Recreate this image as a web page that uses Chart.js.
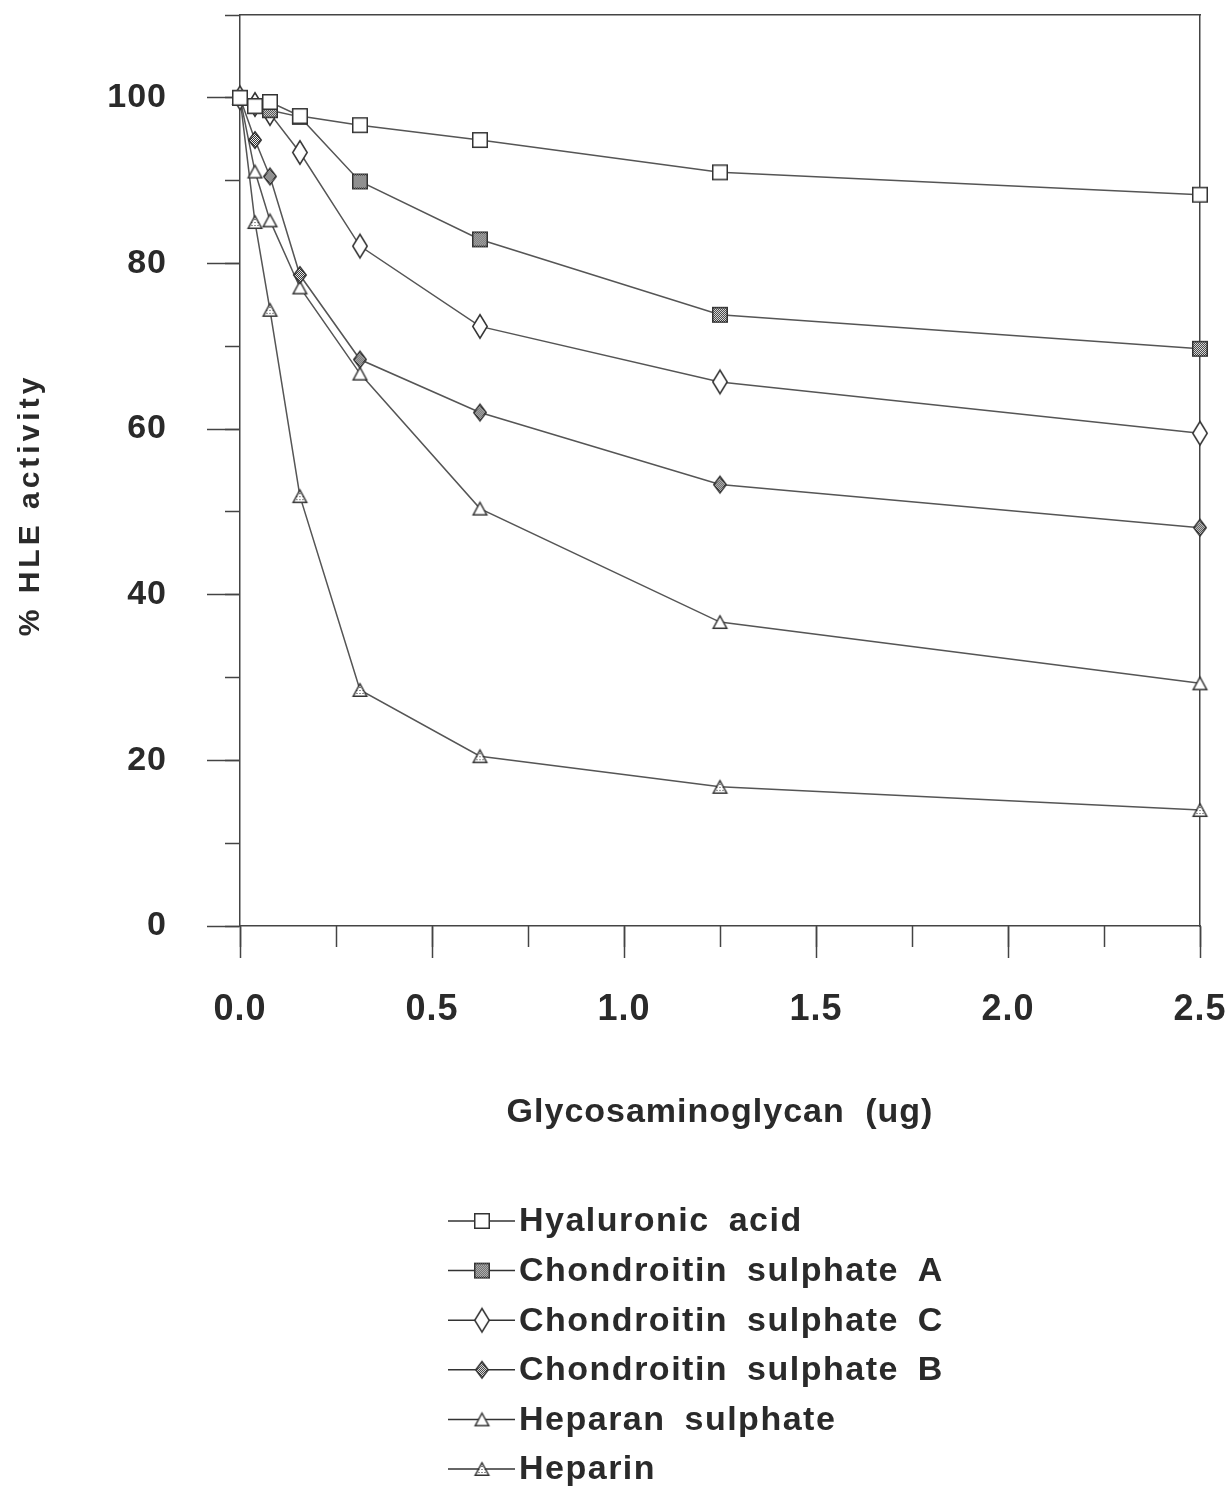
<!DOCTYPE html>
<html>
<head>
<meta charset="utf-8">
<script src="https://cdn.jsdelivr.net/npm/chart.js@4.4.1/dist/chart.umd.min.js"></script>
<style>
    html, body { margin: 0; padding: 0; background: #fff; }
    #wrap { width: 1227px; height: 1490px; }
</style>
</head>
<body>
<div id="wrap"><canvas id="hleChart" width="1227" height="1490"></canvas></div>
<script>
// x = amount of glycosaminoglycan (ug), y = % HLE activity
const doses = [0, 0.039, 0.078, 0.156, 0.3125, 0.625, 1.25, 2.5];
const seriesNames = ['Hyaluronic acid', 'Chondroitin sulphate A', 'Chondroitin sulphate C',
                     'Chondroitin sulphate B', 'Heparan sulphate', 'Heparin'];
const hyaluronic = [100, 99, 99.5, 97.8, 96.7, 94.9, 91.0, 88.3];
const chondA     = [100, 99, 98.5, 97.7, 89.9, 82.9, 73.8, 69.7];
const chondC     = [100, 99.2, 98.1, 93.4, 82.1, 72.4, 65.7, 59.5];
const chondB     = [100, 94.9, 90.5, 78.6, 68.4, 62.0, 53.3, 48.1];
const heparan    = [100, 91.1, 85.2, 77.1, 66.7, 50.4, 36.7, 29.3];
const heparin    = [100, 85.0, 74.4, 51.9, 28.5, 20.5, 16.8, 14.0];
const yTickValues = [0, 20, 40, 60, 80, 100];
const xTickValues = [0, 0.5, 1.0, 1.5, 2.0, 2.5];

const INK = '#2a2a2a';
const LINE = '#555';
const FONT = '"Liberation Sans", Arial, Helvetica, sans-serif';

// small fill patterns for the shaded markers
function makePattern(size, darkPixels) {
    const p = document.createElement('canvas');
    p.width = size; p.height = size;
    const g = p.getContext('2d');
    g.fillStyle = '#fff';
    g.fillRect(0, 0, size, size);
    g.fillStyle = '#222';
    darkPixels.forEach(([px, py]) => g.fillRect(px, py, 1, 1));
    return p;
}
const checker = makePattern(2, [[0, 0], [1, 1]]);
const dots = makePattern(3, [[1, 1]]);

function makeMarker(shape, w, h, fill) {
    const pad = 2;
    const c = document.createElement('canvas');
    c.width = w + pad * 2;
    c.height = h + pad * 2;
    const g = c.getContext('2d');
    g.translate(pad, pad);
    g.beginPath();
    if (shape === 'square') {
        g.rect(0.75, 0.75, w - 1.5, h - 1.5);
    } else if (shape === 'diamond') {
        g.moveTo(w / 2, 0.75);
        g.lineTo(w - 0.75, h / 2);
        g.lineTo(w / 2, h - 0.75);
        g.lineTo(0.75, h / 2);
        g.closePath();
    } else {
        g.moveTo(w / 2, 0.75);
        g.lineTo(w - 0.75, h - 0.75);
        g.lineTo(0.75, h - 0.75);
        g.closePath();
    }
    g.fillStyle = fill ? g.createPattern(fill, 'repeat') : '#fff';
    g.fill();
    g.strokeStyle = '#333';
    g.lineWidth = 1.5;
    g.stroke();
    return c;
}

const markers = [
    makeMarker('square', 16, 16, null),
    makeMarker('square', 16, 16, checker),
    makeMarker('diamond', 16, 25, null),
    makeMarker('diamond', 14, 18, checker),
    makeMarker('triangle', 15, 14, null),
    makeMarker('triangle', 15, 14, dots)
];

const seriesValues = [hyaluronic, chondA, chondC, chondB, heparan, heparin];

const datasets = seriesNames.map((name, i) => ({
    label: name,
    data: doses.map((d, k) => ({ x: d, y: seriesValues[i][k] })),
    borderColor: LINE,
    borderWidth: 1.5,
    backgroundColor: '#fff',
    pointStyle: markers[i],
    pointRadius: 8,
    tension: 0,
    clip: false
}));

// letter spacing for all text drawn by the scales
const spacingPlugin = {
    id: 'spacing',
    beforeDraw(chart) {
        chart.ctx.letterSpacing = '1px';
        chart.ctx.wordSpacing = '10px';
    }
};

// y title and the stacked legend under the plot
const extrasPlugin = {
    id: 'extras',
    afterDraw(chart) {
        const ctx = chart.ctx;
        ctx.save();
        ctx.letterSpacing = '4px';
        ctx.wordSpacing = '0px';
        ctx.fillStyle = INK;
        ctx.font = 'bold 30px ' + FONT;
        ctx.textAlign = 'center';
        ctx.textBaseline = 'middle';
        ctx.translate(31, 505);
        ctx.rotate(-Math.PI / 2);
        ctx.fillText('% HLE activity', 0, 0);
        ctx.restore();

        ctx.save();
        ctx.font = 'bold 34px ' + FONT;
        ctx.letterSpacing = '1.5px';
        ctx.wordSpacing = '8px';
        ctx.textAlign = 'left';
        ctx.textBaseline = 'middle';
        chart.data.datasets.forEach((ds, i) => {
            const y = 1221 + i * 49.6;
            ctx.strokeStyle = '#333';
            ctx.lineWidth = 1.5;
            ctx.beginPath();
            ctx.moveTo(448, y);
            ctx.lineTo(515, y);
            ctx.stroke();
            const m = ds.pointStyle;
            ctx.drawImage(m, 482 - m.width / 2, y - m.height / 2);
            ctx.fillStyle = INK;
            ctx.fillText(ds.label, 519, y + 1);
        });
        ctx.restore();
    }
};

// fixed box sizes, no extra label padding around the plot area
function fixBox(w, h) {
    return s => {
        if (w !== null) s.width = w;
        if (h !== null) s.height = h;
        s.paddingTop = 0;
        s.paddingBottom = 0;
        s.paddingLeft = 0;
        s.paddingRight = 0;
    };
}

const tickFont = { family: FONT, weight: 'bold' };

const config = {
    type: 'line',
    data: { datasets: datasets },
    options: {
        responsive: false,
        animation: false,
        layout: { padding: 0 },
        plugins: {
            legend: { display: false },
            tooltip: { enabled: false }
        },
        scales: {
            x: {
                type: 'linear',
                position: 'bottom',
                weight: 2,
                min: 0,
                max: 2.5,
                afterBuildTicks: s => { s.ticks = xTickValues.map(v => ({ value: v })); },
                ticks: {
                    callback: v => v.toFixed(1),
                    font: Object.assign({ size: 36 }, tickFont),
                    color: INK,
                    padding: 30,
                    maxRotation: 0,
                    autoSkip: false
                },
                grid: { drawOnChartArea: false, tickLength: 32, tickColor: '#444', tickWidth: 1.5 },
                border: { color: '#444', width: 1.5 },
                title: {
                    display: true,
                    text: 'Glycosaminoglycan (ug)',
                    color: INK,
                    font: { family: FONT, weight: 'bold', size: 34 },
                    padding: { top: 0, bottom: 357 }
                },
                afterFit: fixBox(null, 564)
            },
            xMinor: {
                type: 'linear',
                position: 'bottom',
                weight: 1,
                min: 0,
                max: 2.5,
                ticks: { stepSize: 0.25, display: false },
                grid: { drawOnChartArea: false, tickLength: 21, tickColor: '#444', tickWidth: 1.5 },
                border: { display: false },
                afterFit: fixBox(null, 0)
            },
            xTop: {
                type: 'linear',
                position: 'top',
                min: 0,
                max: 2.5,
                ticks: { display: false },
                grid: { display: false },
                border: { color: '#444', width: 1.5 },
                afterFit: fixBox(null, 15)
            },
            y: {
                type: 'linear',
                position: 'left',
                weight: 2,
                min: 0,
                max: 110,
                afterBuildTicks: s => { s.ticks = yTickValues.map(v => ({ value: v })); },
                ticks: {
                    font: Object.assign({ size: 34 }, tickFont),
                    color: INK,
                    padding: 40
                },
                grid: { drawOnChartArea: false, tickLength: 33, tickColor: '#444', tickWidth: 1.5 },
                border: { color: '#444', width: 1.5 },
                afterFit: fixBox(240, null)
            },
            yMinor: {
                type: 'linear',
                position: 'left',
                weight: 1,
                min: 0,
                max: 110,
                ticks: { stepSize: 10, display: false, includeBounds: false },
                grid: { drawOnChartArea: false, tickLength: 15, tickColor: '#444', tickWidth: 1.5 },
                border: { display: false },
                afterFit: fixBox(0, null)
            },
            yRight: {
                type: 'linear',
                position: 'right',
                min: 0,
                max: 110,
                ticks: { display: false },
                grid: { display: false },
                border: { color: '#444', width: 1.5 },
                afterFit: fixBox(27, null)
            }
        }
    },
    plugins: [spacingPlugin, extrasPlugin]
};

const hleChart = new Chart(document.getElementById('hleChart').getContext('2d'), config);
</script>
</body>
</html>
